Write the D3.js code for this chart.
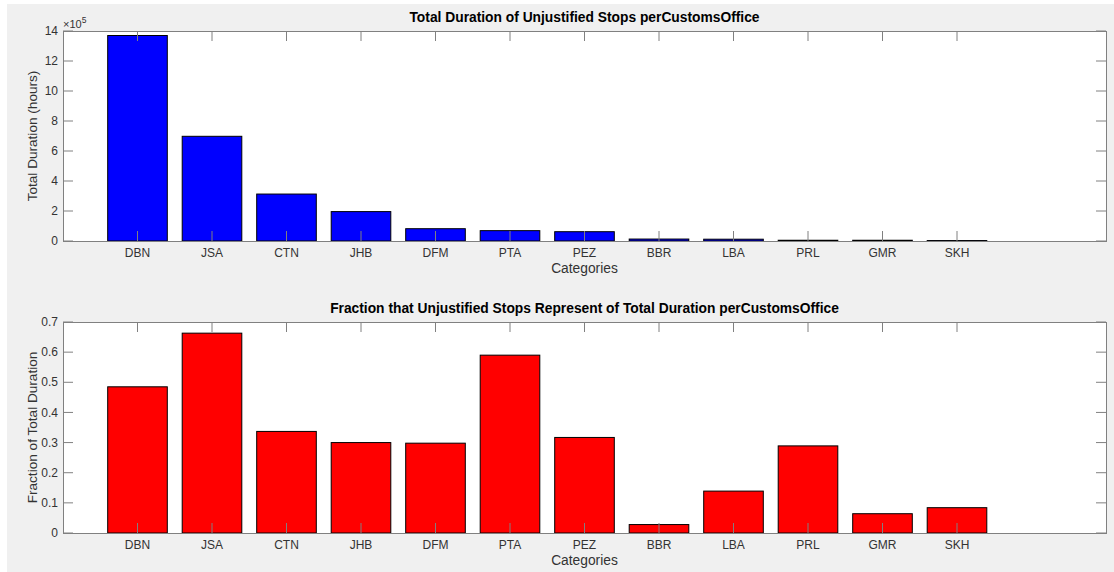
<!DOCTYPE html>
<html>
<head>
<meta charset="utf-8">
<script src="https://cdn.jsdelivr.net/npm/d3@7"></script>
<style>
  body { margin: 0; background: #fff; }
  text { font-family: "Liberation Sans", Arial, sans-serif; }
</style>
</head>
<body>
<div id="chart"></div>
<script>
// category labels (customs offices)
var categories = ["DBN", "JSA", "CTN", "JHB", "DFM", "PTA", "PEZ", "BBR", "LBA", "PRL", "GMR", "SKH"];
// total duration of unjustified stops (hours)
var totalDuration = [1370000, 698000, 313000, 196000, 82000, 69000, 62000, 13000, 12000, 5000, 5000, 3000];
// fraction of total duration
var fraction = [0.485, 0.663, 0.337, 0.300, 0.298, 0.590, 0.317, 0.028, 0.139, 0.289, 0.064, 0.084];
var durationTicks = [0, 200000, 400000, 600000, 800000, 1000000, 1200000, 1400000];
var fractionTicks = [0, 0.1, 0.2, 0.3, 0.4, 0.5, 0.6, 0.7];

var W = 1114, H = 572;
var axisColor = "#808080", textColor = "#333";

var svg = d3.select("#chart")
  .append("svg")
  .attr("width", W)
  .attr("height", H);

// figure background
svg.append("rect")
  .attr("x", 7).attr("y", 4)
  .attr("width", W - 7).attr("height", H - 4)
  .attr("fill", "#f0f0f0");

function panel(cfg) {
  var x = d3.scaleLinear().domain([0, 14]).range([cfg.left, cfg.right]);
  var y = d3.scaleLinear().domain(cfg.domain).range([cfg.bottom, cfg.top]);
  var g = svg.append("g");
  var tickLen = 10;

  // plot area
  g.append("rect")
    .attr("x", cfg.left).attr("y", cfg.top)
    .attr("width", cfg.right - cfg.left)
    .attr("height", cfg.bottom - cfg.top)
    .attr("fill", "#fff");

  // bars
  g.selectAll(".bar")
    .data(cfg.values)
    .enter()
    .append("rect")
    .attr("class", "bar")
    .attr("x", function (d, i) { return x(i + 1 - 0.4); })
    .attr("width", function () { return x(0.8) - x(0); })
    .attr("y", function (d) { return y(d); })
    .attr("height", function (d) { return cfg.bottom - y(d); })
    .attr("fill", cfg.color)
    .attr("stroke", "#000")
    .attr("stroke-width", 1);

  // x ticks, bottom and top (inside)
  var xt = d3.range(1, categories.length + 1);
  g.selectAll(".xtb").data(xt).enter().append("line")
    .attr("x1", function (d) { return x(d); }).attr("x2", function (d) { return x(d); })
    .attr("y1", cfg.bottom).attr("y2", cfg.bottom - tickLen)
    .attr("stroke", axisColor);
  g.selectAll(".xtt").data(xt).enter().append("line")
    .attr("x1", function (d) { return x(d); }).attr("x2", function (d) { return x(d); })
    .attr("y1", cfg.top).attr("y2", cfg.top + tickLen)
    .attr("stroke", axisColor);

  // y ticks, left and right (inside)
  g.selectAll(".ytl").data(cfg.ticks).enter().append("line")
    .attr("x1", cfg.left).attr("x2", cfg.left + tickLen)
    .attr("y1", function (d) { return y(d); }).attr("y2", function (d) { return y(d); })
    .attr("stroke", axisColor);
  g.selectAll(".ytr").data(cfg.ticks).enter().append("line")
    .attr("x1", cfg.right).attr("x2", cfg.right - tickLen)
    .attr("y1", function (d) { return y(d); }).attr("y2", function (d) { return y(d); })
    .attr("stroke", axisColor);

  // box
  g.append("rect")
    .attr("x", cfg.left + 0.5).attr("y", cfg.top + 0.5)
    .attr("width", cfg.right - cfg.left)
    .attr("height", cfg.bottom - cfg.top)
    .attr("fill", "none")
    .attr("stroke", axisColor);

  // tick labels
  g.selectAll(".xlab").data(categories).enter().append("text")
    .attr("x", function (d, i) { return x(i + 1); })
    .attr("y", cfg.bottom + 16)
    .attr("text-anchor", "middle")
    .style("font-size", "12px")
    .attr("fill", textColor)
    .text(function (d) { return d; });

  g.selectAll(".ylab").data(cfg.ticks).enter().append("text")
    .attr("x", cfg.left - 5)
    .attr("y", function (d) { return y(d); })
    .attr("dy", "0.35em")
    .attr("text-anchor", "end")
    .style("font-size", "12px")
    .attr("fill", textColor)
    .text(cfg.tickFormat);

  // axis labels and title
  g.append("text")
    .attr("x", (cfg.left + cfg.right) / 2)
    .attr("y", cfg.bottom + 32)
    .attr("text-anchor", "middle")
    .style("font-size", "13.8px")
    .attr("fill", textColor)
    .text("Categories");

  g.append("text")
    .attr("transform", "translate(37," + (cfg.top + cfg.bottom) / 2 + ") rotate(-90)")
    .attr("text-anchor", "middle")
    .style("font-size", "13.6px")
    .attr("fill", textColor)
    .text(cfg.ylabel);

  g.append("text")
    .attr("x", (cfg.left + cfg.right) / 2)
    .attr("y", cfg.top - 9)
    .attr("text-anchor", "middle")
    .style("font-size", "13.8px")
    .style("font-weight", "bold")
    .attr("fill", "#000")
    .text(cfg.title);

  return g;
}

var top1 = panel({
  left: 63, right: 1106, top: 31, bottom: 241,
  domain: [0, 1400000],
  ticks: durationTicks,
  tickFormat: function (d) { return d / 100000; },
  values: totalDuration,
  color: "#0000ff",
  ylabel: "Total Duration (hours)",
  title: "Total Duration of Unjustified Stops perCustomsOffice"
});

// exponent label
var expo = top1.append("text")
  .attr("x", 63)
  .attr("y", 28)
  .style("font-size", "11px")
  .attr("fill", textColor);
expo.append("tspan").text("\u00d710");
expo.append("tspan").attr("dy", -5).style("font-size", "8.5px").text("5");

panel({
  left: 63, right: 1106, top: 322, bottom: 533,
  domain: [0, 0.7],
  ticks: fractionTicks,
  tickFormat: function (d) { return d === 0 ? "0" : d3.format(".1f")(d); },
  values: fraction,
  color: "#ff0000",
  ylabel: "Fraction of Total Duration",
  title: "Fraction that Unjustified Stops Represent of Total Duration perCustomsOffice"
});
</script>
</body>
</html>
